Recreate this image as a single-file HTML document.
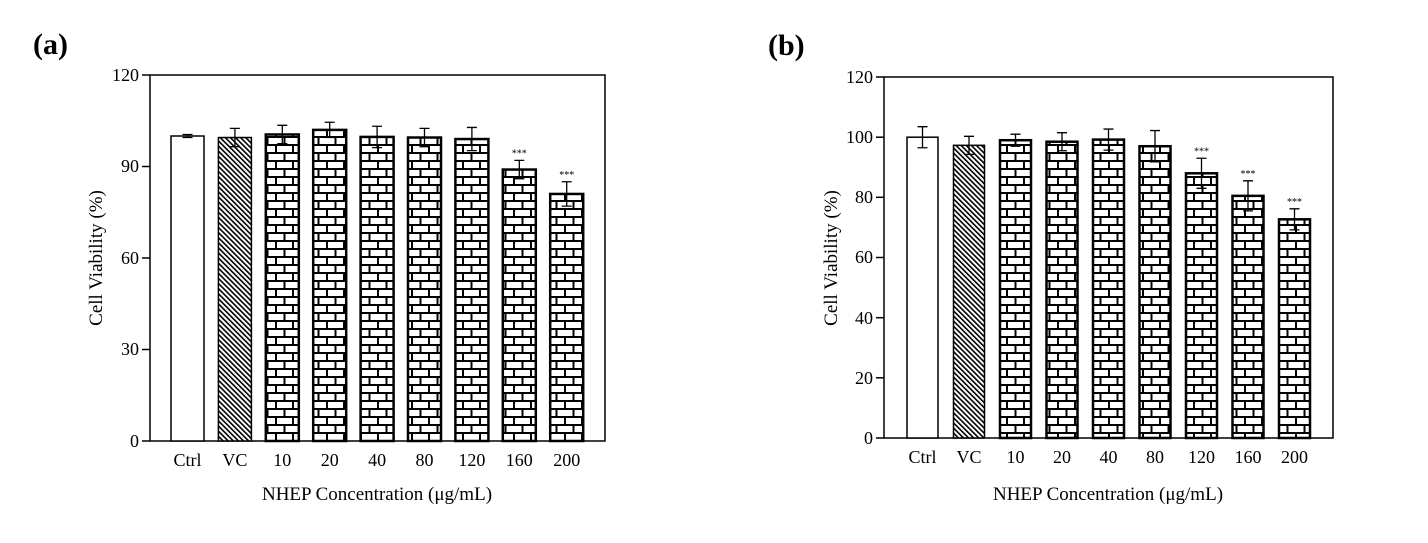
<!DOCTYPE html>
<html><head><meta charset="utf-8"><style>
html,body{margin:0;padding:0;background:#fff;}
svg{display:block;font-family:"Liberation Serif",serif;}
</style></head><body>
<svg width="1428" height="543" viewBox="0 0 1428 543" xmlns="http://www.w3.org/2000/svg">
<defs>
<pattern id="brick" patternUnits="userSpaceOnUse" width="17" height="16" x="0" y="0">
<rect width="17" height="16" fill="#fff"/>
<path d="M0 1H17M0 9H17M4 1V9M12.5 9V16" stroke="#000" stroke-width="2" fill="none"/>
</pattern>
<pattern id="hatch" patternUnits="userSpaceOnUse" width="3.6" height="4" patternTransform="rotate(-45)">
<rect width="3.6" height="4" fill="#fff"/>
<line x1="0.8" y1="0" x2="0.8" y2="4" stroke="#000" stroke-width="1.6"/>
</pattern>
</defs>

<text x="33" y="54" font-size="30" font-weight="bold">(a)</text>
<text x="768" y="55" font-size="30" font-weight="bold">(b)</text>

<!-- Chart A -->
<g stroke="#000" stroke-width="1.5" fill="none">
<rect x="150" y="75" width="455" height="366"/>
<line x1="150" y1="75" x2="142" y2="75"/><line x1="150" y1="166.5" x2="142" y2="166.5"/>
<line x1="150" y1="258" x2="142" y2="258"/><line x1="150" y1="349.5" x2="142" y2="349.5"/>
<line x1="150" y1="441" x2="142" y2="441"/>
</g>
<g font-size="18" text-anchor="end">
<text x="139" y="81">120</text><text x="139" y="172">90</text><text x="139" y="264">60</text>
<text x="139" y="355">30</text><text x="139" y="447">0</text>
</g>
<text transform="translate(102,258) rotate(-90)" font-size="19" text-anchor="middle">Cell Viability (%)</text>
<text x="377" y="500" font-size="19" text-anchor="middle">NHEP Concentration (μg/mL)</text>
<g id="barsA"></g>

<!-- Chart B -->
<g stroke="#000" stroke-width="1.5" fill="none">
<rect x="884" y="77" width="449" height="361"/>
<line x1="884" y1="77" x2="876" y2="77"/><line x1="884" y1="137.2" x2="876" y2="137.2"/>
<line x1="884" y1="197.3" x2="876" y2="197.3"/><line x1="884" y1="257.5" x2="876" y2="257.5"/>
<line x1="884" y1="317.7" x2="876" y2="317.7"/><line x1="884" y1="377.8" x2="876" y2="377.8"/>
<line x1="884" y1="438" x2="876" y2="438"/>
</g>
<g font-size="18" text-anchor="end">
<text x="873" y="83">120</text><text x="873" y="143">100</text><text x="873" y="203">80</text>
<text x="873" y="263">60</text><text x="873" y="324">40</text><text x="873" y="384">20</text><text x="873" y="444">0</text>
</g>
<text transform="translate(837,258) rotate(-90)" font-size="19" text-anchor="middle">Cell Viability (%)</text>
<text x="1108" y="500" font-size="19" text-anchor="middle">NHEP Concentration (μg/mL)</text>
<g id="barsB"></g>

<script>
(function(){
var NS="http://www.w3.org/2000/svg";
var labels=["Ctrl","VC","10","20","40","80","120","160","200"];
function draw(g,x0,sp,w,base,scale,vals,errs,stars){
 var el=document.getElementById(g);
 for(var i=0;i<9;i++){
  var x=x0+i*sp, y=base-vals[i]*scale, h=vals[i]*scale;
  var r=document.createElementNS(NS,"rect");
  r.setAttribute("x",x);r.setAttribute("y",y);r.setAttribute("width",w);r.setAttribute("height",h);
  r.setAttribute("fill",i==0?"#fff":(i==1?"url(#hatch)":"url(#brick)"));
  r.setAttribute("stroke","#000");r.setAttribute("stroke-width",i<2?1.5:2.5);
  el.appendChild(r);
  var cx=x+w/2, e=errs[i]*scale;
  var p=document.createElementNS(NS,"path");
  p.setAttribute("d","M"+cx+" "+(y-e)+"V"+(y+e)+"M"+(cx-5)+" "+(y-e)+"H"+(cx+5)+"M"+(cx-5)+" "+(y+e)+"H"+(cx+5));
  p.setAttribute("stroke","#000");p.setAttribute("stroke-width",1.3);p.setAttribute("fill","none");
  el.appendChild(p);
  if(stars[i]){var s=document.createElementNS(NS,"text");s.setAttribute("x",cx);s.setAttribute("y",y-e-4);
   s.setAttribute("font-size","10");s.setAttribute("text-anchor","middle");s.textContent="***";el.appendChild(s);}
  var t=document.createElementNS(NS,"text");t.setAttribute("x",cx);t.setAttribute("y",base+25);
  t.setAttribute("font-size","18");t.setAttribute("text-anchor","middle");t.textContent=labels[i];el.appendChild(t);
 }
}
draw("barsA",171,47.4,33,441,3.05,[100,99.5,100.5,102,99.7,99.5,99,89,81],[0.5,3,3,2.5,3.5,3,3.8,3,4],[0,0,0,0,0,0,0,1,1]);
draw("barsB",907,46.5,31,438,3.008,[100,97.3,99,98.5,99.2,97,88,80.5,72.7],[3.5,3,2,3,3.5,5.2,5,5,3.5],[0,0,0,0,0,0,1,1,1]);
})();
</script>
</svg>
</body></html>
